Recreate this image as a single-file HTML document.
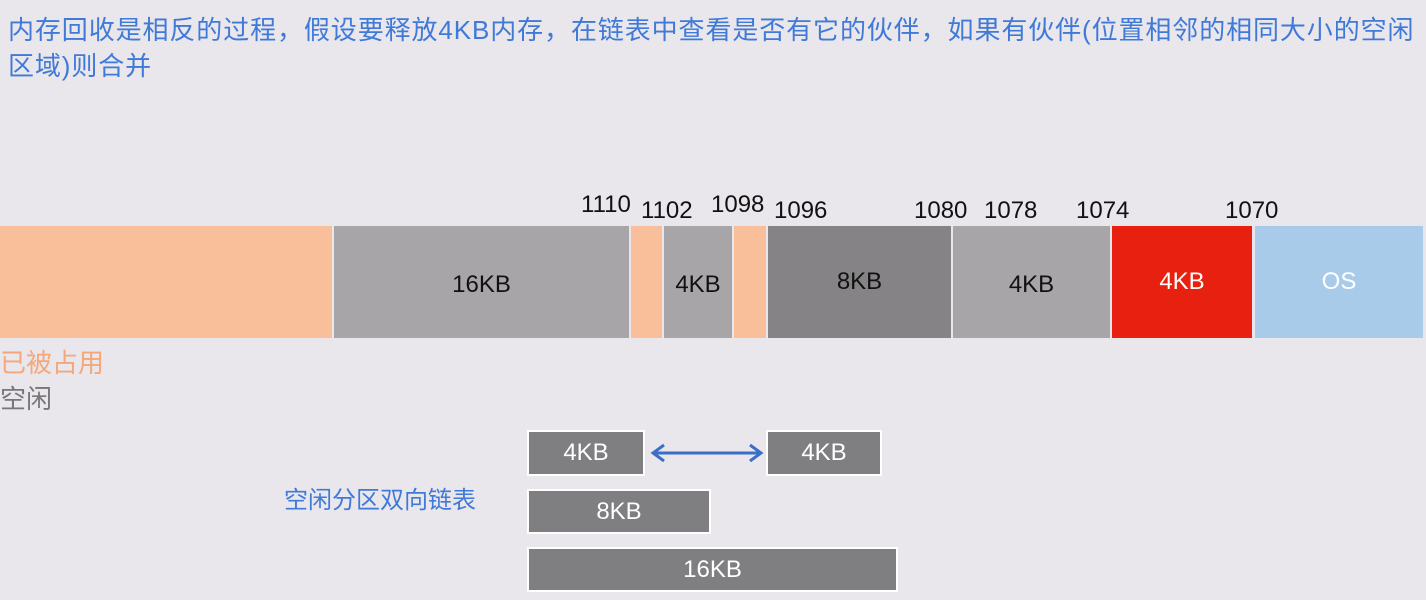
<!DOCTYPE html>
<html><head><meta charset="utf-8"><style>
body{margin:0;width:1426px;height:600px;background:#e9e6ec;position:relative;overflow:hidden;font-family:"Liberation Sans","Noto Sans CJK SC",sans-serif}
.t{position:absolute;left:8px;top:12px;width:1418px;font-size:26px;line-height:36px;color:#3f7ad8;letter-spacing:0.9px;white-space:nowrap}
.b{position:absolute;top:226px;height:112px;box-sizing:border-box;display:flex;align-items:center;justify-content:center;font-size:24px;color:#111}
.n{position:absolute;font-size:24px;color:#111}
.l{position:absolute;box-sizing:border-box;border:2px solid #fff;background:#7f7e80;color:#fff;font-size:24px;display:flex;align-items:center;justify-content:center}
</style></head><body>
<div class="t">内存回收是相反的过程，假设要释放4KB内存，在链表中查看是否有它的伙伴，如果有伙伴(位置相邻的相同大小的空闲<br>区域)则合并</div>
<div class="b" style="left:0;width:332px;background:#f8bf9a"></div>
<div class="b" style="left:334px;width:295px;background:#a7a5a8;padding-top:6px">16KB</div>
<div class="b" style="left:631px;width:31px;background:#f8bf9a"></div>
<div class="b" style="left:664px;width:68px;background:#a7a5a8;padding-top:6px">4KB</div>
<div class="b" style="left:734px;width:32px;background:#f8bf9a"></div>
<div class="b" style="left:768px;width:183px;background:#858385">8KB</div>
<div class="b" style="left:953px;width:157px;background:#a7a5a8;padding-top:6px">4KB</div>
<div class="b" style="left:1112px;width:140px;background:#e8200f;color:#fff">4KB</div>
<div class="b" style="left:1255px;width:168px;background:#a9cbea;color:#fff">OS</div>
<div class="n" style="left:581px;top:191px">1110</div>
<div class="n" style="left:641px;top:197px">1102</div>
<div class="n" style="left:711px;top:191px">1098</div>
<div class="n" style="left:774px;top:197px">1096</div>
<div class="n" style="left:914px;top:197px">1080</div>
<div class="n" style="left:984px;top:197px">1078</div>
<div class="n" style="left:1076px;top:197px">1074</div>
<div class="n" style="left:1225px;top:197px">1070</div>
<div style="position:absolute;left:0;top:343px;font-size:26px;color:#f4a77a">已被占用</div>
<div style="position:absolute;left:0;top:379px;font-size:26px;color:#777">空闲</div>
<div style="position:absolute;left:284px;top:480px;font-size:24px;color:#3f7ad8">空闲分区双向链表</div>
<div class="l" style="left:527px;top:430px;width:118px;height:46px">4KB</div>
<div class="l" style="left:766px;top:430px;width:116px;height:46px">4KB</div>
<div class="l" style="left:527px;top:489px;width:184px;height:45px">8KB</div>
<div class="l" style="left:527px;top:547px;width:371px;height:45px">16KB</div>
<svg style="position:absolute;left:0;top:0" width="1426" height="600">
<line x1="654" y1="453" x2="760" y2="453" stroke="#3b6fc6" stroke-width="3"/>
<polyline points="664,445 653,453 664,461" fill="none" stroke="#3b6fc6" stroke-width="3"/>
<polyline points="750,445 761,453 750,461" fill="none" stroke="#3b6fc6" stroke-width="3"/>
</svg>
</body></html>
